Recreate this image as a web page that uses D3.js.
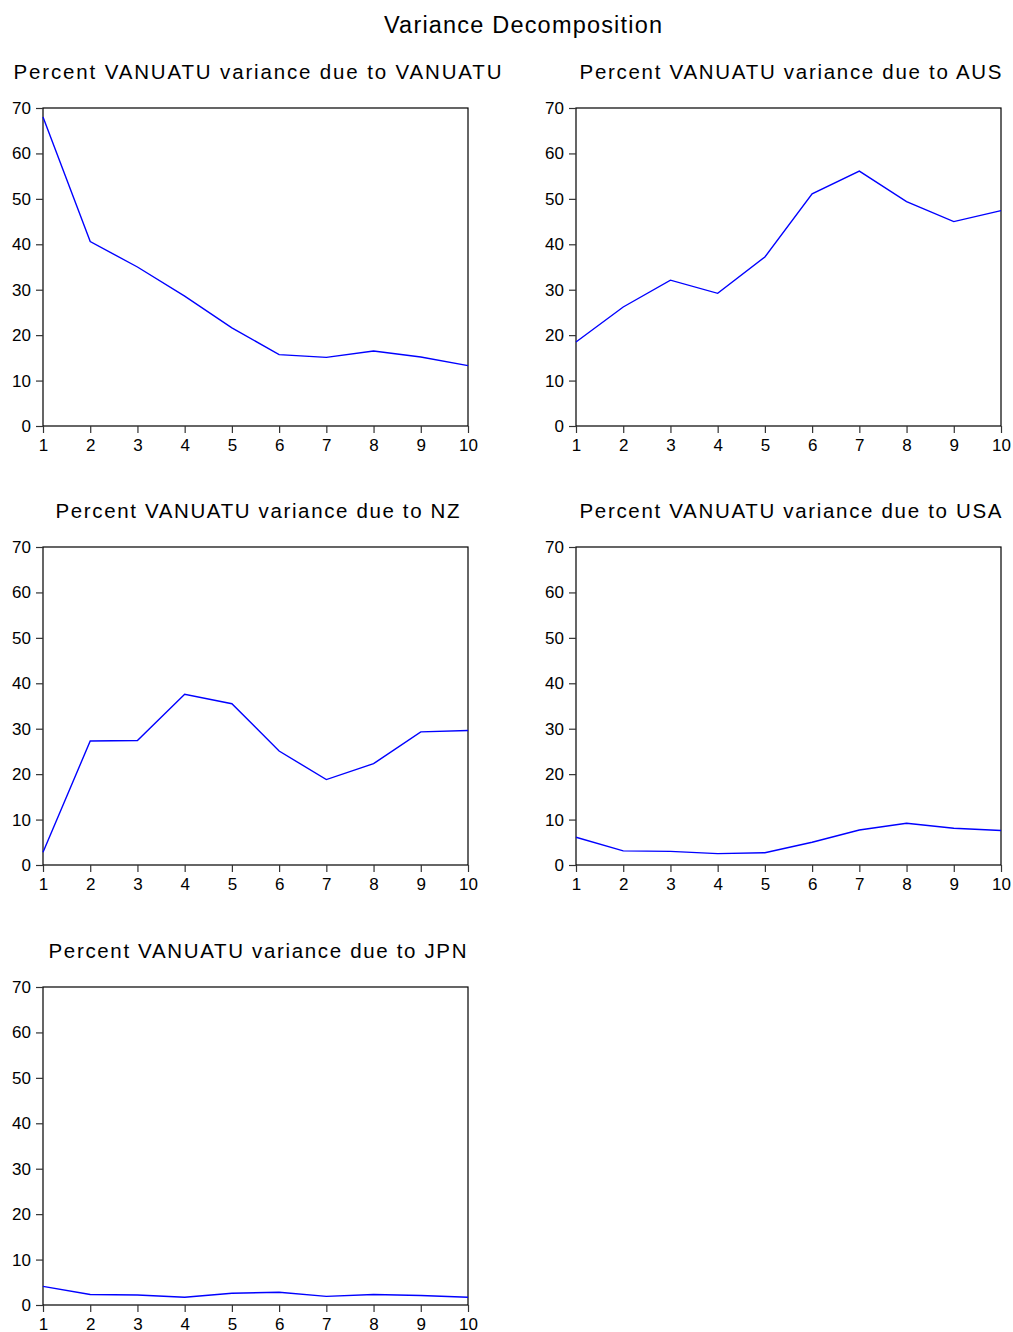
<!DOCTYPE html>
<html>
<head>
<meta charset="utf-8">
<script src="https://cdn.jsdelivr.net/npm/d3@7"></script>
<style>
  html, body { margin: 0; padding: 0; background: #fff; }
  svg { display: block; font-family: "Liberation Sans", Arial, sans-serif; }
</style>
</head>
<body>
<svg id="chart" width="1013" height="1332"></svg>
<script>
const chartTitle = "Variance Decomposition";
const periods = [1, 2, 3, 4, 5, 6, 7, 8, 9, 10];
const yTicks = [0, 10, 20, 30, 40, 50, 60, 70];
const panelTitles = [
  "Percent VANUATU variance due to VANUATU",
  "Percent VANUATU variance due to AUS",
  "Percent VANUATU variance due to NZ",
  "Percent VANUATU variance due to USA",
  "Percent VANUATU variance due to JPN"
];
const vanuatu = [68.0, 40.6, 35.0, 28.6, 21.6, 15.7, 15.1, 16.5, 15.2, 13.3];
const aus     = [18.5, 26.2, 32.1, 29.2, 37.2, 51.1, 56.1, 49.4, 45.0, 47.4];
const nz      = [2.8, 27.3, 27.4, 37.6, 35.5, 25.1, 18.8, 22.3, 29.3, 29.6];
const usa     = [6.1, 3.1, 3.0, 2.5, 2.7, 5.0, 7.7, 9.2, 8.1, 7.6];
const jpn     = [4.1, 2.3, 2.2, 1.7, 2.6, 2.8, 1.9, 2.3, 2.1, 1.7];
const seriesList = [vanuatu, aus, nz, usa, jpn];

// layout
const colX = [43, 576];
const rowY = [108, 547, 987];
const pw = 425, ph = 318;
const titleWidths = [488, 422, 404, 422, 418];

const svg = d3.select("#chart");

svg.append("text")
  .attr("x", 523).attr("y", 33)
  .attr("text-anchor", "middle")
  .attr("font-size", 23.5)
  .attr("textLength", 278).attr("lengthAdjust", "spacing")
  .attr("fill", "#000")
  .text(chartTitle);

seriesList.forEach((vals, i) => {
  const x0 = colX[i % 2], y0 = rowY[Math.floor(i / 2)];
  const g = svg.append("g").attr("transform", `translate(${x0},${y0})`);
  const x = d3.scaleLinear().domain([1, 10]).range([0, pw]);
  const y = d3.scaleLinear().domain([0, 70]).range([ph, 0]);

  // subtitle
  g.append("text")
    .attr("x", pw / 2 + 2).attr("y", -29)
    .attr("text-anchor", "middle")
    .attr("font-size", 20.5)
    .attr("textLength", titleWidths[i]).attr("lengthAdjust", "spacing")
    .attr("fill", "#000")
    .text(panelTitles[i]);

  // frame
  g.append("rect")
    .attr("x", 0).attr("y", 0).attr("width", pw).attr("height", ph)
    .attr("fill", "none").attr("stroke", "#000").attr("stroke-width", 1.2);

  const yAxis = d3.axisLeft(y).tickValues(yTicks).tickSize(7).tickPadding(5).tickFormat(d3.format("d"));
  const xAxis = d3.axisBottom(x).tickValues(periods).tickSize(7).tickPadding(6).tickFormat(d3.format("d"));

  const ya = g.append("g").call(yAxis);
  const xa = g.append("g").attr("transform", `translate(0,${ph})`).call(xAxis);
  [ya, xa].forEach(a => {
    a.select(".domain").remove();
    a.selectAll(".tick line").attr("stroke", "#333").attr("stroke-width", 1.2);
    a.selectAll(".tick text").attr("font-size", 17).attr("fill", "#000")
      .style("font-family", '"Liberation Sans", Arial, sans-serif');
  });

  const line = d3.line().x((d, j) => x(periods[j])).y(d => y(d));
  g.append("path")
    .datum(vals)
    .attr("d", line)
    .attr("fill", "none")
    .attr("stroke", "#0000ff")
    .attr("stroke-width", 1.4);
});
</script>
</body>
</html>
